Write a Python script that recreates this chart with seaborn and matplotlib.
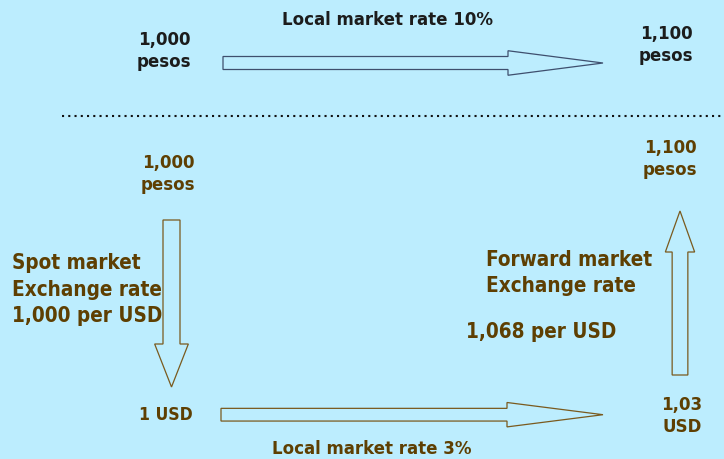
import matplotlib
matplotlib.use("Agg")
import matplotlib.pyplot as plt
import seaborn as sns
from matplotlib.patches import FancyArrow

sns.set_theme(style="white")
plt.rcParams['font.family'] = ['DejaVu Sans']

BG = "#BCEDFE"
DARK = "#1c1c1c"
BROWN = "#5e3f02"

# ---- diagram content ----
top_title = "Local market rate 10%"
bottom_title = "Local market rate 3%"
start_pesos = "1,000\npesos"
end_pesos = "1,100\npesos"
spot_label = ["Spot market", "Exchange rate", "1,000 per USD"]
forward_label = ["Forward market", "Exchange rate"]
forward_rate = "1,068 per USD"
usd_start = "1 USD"
usd_end = "1,03\nUSD"

W, H = 724, 459
fig = plt.figure(figsize=(W / 100, H / 100), dpi=100, facecolor=BG)
ax = fig.add_axes([0, 0, 1, 1])
ax.set_facecolor(BG)
ax.set_xlim(0, W)
ax.set_ylim(H, 0)
ax.axis("off")

FS_S = 13.3
FS_L = 14.9

def txt(x, y, s, color, size, ha="center", ls=1.2):
    ax.text(x, y, s, color=color, fontsize=size, fontweight="bold",
            ha=ha, va="center", linespacing=ls, fontstretch="condensed")

# top section
txt(388, 20, top_title, DARK, FS_S)
txt(164, 51, start_pesos, DARK, FS_S, ls=1.3)
txt(666, 45, end_pesos, DARK, FS_S, ls=1.3)

# separator
ax.plot([62, W], [116, 116], color="#111111", lw=1.5,
        linestyle=(0, (1, 2)), dash_capstyle="butt")

# bottom section
txt(168, 174, start_pesos, BROWN, FS_S, ls=1.3)
txt(670, 159, end_pesos, BROWN, FS_S, ls=1.3)
for i, s in enumerate(spot_label):
    txt(12, 263 + i * 26.5, s, BROWN, FS_L, ha="left")
for i, s in enumerate(forward_label):
    txt(486, 260 + i * 26, s, BROWN, FS_L, ha="left")
txt(466, 332, forward_rate, BROWN, FS_L, ha="left")
txt(166, 415, usd_start, BROWN, 12.6)
txt(682, 416, usd_end, BROWN, FS_S, ls=1.3)
txt(372, 449, bottom_title, BROWN, FS_S)

def arrow(x, y, dx, dy, w, hw, hl, ec):
    ax.add_patch(FancyArrow(x, y, dx, dy, width=w, head_width=hw,
                            head_length=hl, length_includes_head=True,
                            facecolor=BG, edgecolor=ec, lw=0.9))

arrow(223, 63, 380, 0, 13, 24.5, 95, "#3e4f6e")
arrow(171.5, 220, 0, 167, 17, 33.7, 43, "#7a5a1e")
arrow(680, 375, 0, -164, 15.7, 29.3, 41, "#7a5a1e")
arrow(221, 414.7, 382, 0, 12.7, 24.4, 96, "#7a5a1e")

fig.savefig("out.png", dpi=100, facecolor=BG)
